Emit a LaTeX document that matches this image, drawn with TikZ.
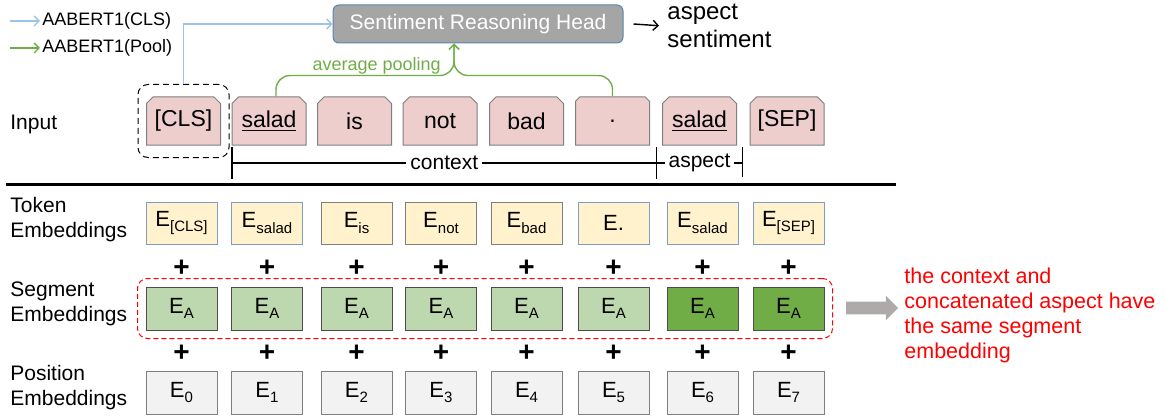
\documentclass[tikz,border=0pt]{standalone}
\usepackage{fontspec}
\setmainfont{Liberation Sans}
\usepackage{tikz}
\usetikzlibrary{shapes.misc, shapes.arrows, fit, positioning, arrows.meta}

\definecolor{token_fill}{HTML}{EECDCD}
\definecolor{cream_fill}{HTML}{FFF2CC}
\definecolor{seg_light}{HTML}{BDD7AE}
\definecolor{seg_dark}{HTML}{70AD47}
\definecolor{pos_fill}{HTML}{F2F2F2}
\definecolor{edge_gray}{HTML}{7F7F7F}
\definecolor{edge_blue}{HTML}{7E9CC4}
\definecolor{cls_blue}{HTML}{9DC3E6}
\definecolor{pool_green}{HTML}{70AD47}
\definecolor{head_fill}{HTML}{A5A5A5}
\definecolor{head_edge}{HTML}{5B84B1}
\definecolor{hint_gray}{HTML}{AEAAAA}

\newcommand{\emb}[1]{E\raisebox{-0.45ex}{\fontsize{7.5}{8}\selectfont #1}}

\tikzset{
  base_font/.style = {font=\fontsize{10.5}{12.5}\selectfont},
  small_font/.style = {font=\fontsize{9}{11}\selectfont},
  big_font/.style = {font=\fontsize{12}{14}\selectfont},
  emb_font/.style = {font=\fontsize{11}{13}\selectfont}
}
\tikzset{
  >={Straight Barb[length=2.5pt, width=5pt]},
  label_text/.style = {base_font, align=left, anchor=west, inner sep=0},
  legend_text/.style = {small_font, anchor=west, inner sep=1pt},
  out_text/.style = {big_font, align=left, anchor=west, inner sep=2pt},
  head/.style = {base_font, text=white, fill=head_fill, draw=head_edge, line width=0.5pt,
    rounded corners=3pt, minimum width=145pt, minimum height=19pt},
  token/.style = {chamfered rectangle, chamfered rectangle corners={north west, north east},
    chamfered rectangle xsep=1.75pt, chamfered rectangle ysep=1.5pt,
    font=\fontsize{11.5}{13}\selectfont, fill=token_fill, draw=edge_gray, line width=0.5pt,
    minimum width=37pt, minimum height=24pt, inner sep=0},
  cls_box/.style = {draw, dashed, dash pattern=on 3pt off 2pt, line width=0.5pt,
    rounded corners=5pt, inner xsep=4pt, inner ysep=6pt},
  emb/.style = {emb_font, draw=edge_gray, line width=0.5pt, minimum width=35.5pt, inner sep=0},
  tok_emb/.style = {emb, fill=cream_fill, minimum height=21pt},
  blue_edge/.style = {draw=edge_blue},
  seg_emb/.style = {emb, fill=seg_light, draw=black!70, minimum height=21.5pt},
  dark_seg/.style = {fill=seg_dark},
  pos_emb/.style = {emb, fill=pos_fill, minimum height=21.5pt},
  plus/.style = {font=\bfseries\fontsize{14}{14}\selectfont, inner sep=0}
}
\tikzset{
  cls_line/.style = {->, draw=cls_blue, line width=0.7pt},
  pool_line/.style = {->, draw=pool_green, line width=0.7pt},
  pool_text/.style = {small_font, text=pool_green, inner sep=0},
  bracket/.style = {line width=0.8pt},
  bracket_text/.style = {base_font, fill=white, inner sep=2pt},
  sep_line/.style = {line width=1.5pt},
  seg_box/.style = {draw=red, dashed, dash pattern=on 2.5pt off 1.5pt, line width=0.5pt,
    rounded corners=5pt, inner sep=4pt},
  hint/.style = {single arrow, fill=hint_gray, inner sep=3pt, minimum width=12pt,
    minimum height=26pt, single arrow head extend=3pt},
  note/.style = {font=\fontsize{10.75}{12.5}\selectfont, text=red, align=left, anchor=west, inner sep=0}
}

\begin{document}
\begin{tikzpicture}[x=0.5pt, y=-0.5pt]
        \useasboundingbox (0,0) rectangle (1165,417);

        % Legend
        \node[legend_text] (leg_cls) at (40,21) {AABERT1(CLS)};
        \node[legend_text] (leg_pool) at (40,48) {AABERT1(Pool)};
        \draw[cls_line] ([xshift=-15pt]leg_cls.west) -- (leg_cls.west);
        \draw[pool_line] ([xshift=-15pt]leg_pool.west) -- (leg_pool.west);

        % Head and output
        \node[head] (head) at (478,24) {Sentiment Reasoning Head};
        \node[out_text] (out) at (663,26) {aspect\\sentiment};
        \draw[->, line width=0.7pt, shorten >=2pt] ([xshift=5pt]head.east) -- (out.west);

        % Input tokens
        \node[label_text] (l_input) at (10,124) {Input};
        \node[token] (t_0) at (183.5,121) {[CLS]};
        \node[token] (t_1) at (269,121) {\underline{salad}};
        \node[token] (t_2) at (354.5,121) {is};
        \node[token] (t_3) at (440,121) {not};
        \node[token] (t_4) at (526.5,121) {bad};
        \node[token] (t_5) at (612.5,121) {.};
        \node[token] (t_6) at (699.5,121) {\underline{salad}};
        \node[token] (t_7) at (787,121) {[SEP]};
        \node[cls_box, fit=(t_0)] (cls_box) {};

        % Pooling and CLS paths
        \coordinate (pool_in) at ([xshift=-12pt]head.south);
        \coordinate (pool_bar) at ([yshift=-16pt]pool_in);
        \draw[pool_line, rounded corners=7pt] ([xshift=3.5pt]t_1.north) |- (pool_bar) -- (pool_in);
        \draw[pool_line, rounded corners=7pt] (t_5.north) |- (pool_bar) -- (pool_in);
        \node[pool_text, anchor=base east] (pool_lbl) at ([xshift=-6.5pt, yshift=2.5pt]pool_bar) {average pooling};
        \draw[cls_line] (cls_box.north) |- (head.west);

        % Context / aspect bracket
        \coordinate (ctx_l) at (232,163);
        \coordinate (ctx_m) at (656.5,163);
        \coordinate (ctx_r) at (742.5,163);
        \draw[bracket] (ctx_l) -- node[bracket_text] (ctx_lbl) {context} (ctx_m)
            -- node[bracket_text] (asp_lbl) {aspect} (ctx_r);
        \draw[bracket] ([yshift=8pt]ctx_l) -- ([yshift=-8pt]ctx_l);
        \draw[bracket] ([yshift=8pt]ctx_m) -- ([yshift=-8pt]ctx_m);
        \draw[bracket] ([yshift=8pt]ctx_r) -- ([yshift=-7pt]ctx_r);

        \draw[sep_line] (6,184) -- (896,184);

        % Row labels
        \node[label_text] (l_tok) at (10,220) {Token\\Embeddings};
        \node[label_text] (l_seg) at (10,304) {Segment\\Embeddings};
        \node[label_text] (l_pos) at (10,388) {Position\\Embeddings};

        % Token embeddings
        \node[tok_emb, blue_edge] (te_0) at (181.5,223) {\emb{[CLS]}};
        \node[tok_emb, blue_edge] (te_1) at (267,223) {\emb{salad}};
        \node[tok_emb] (te_2) at (356.5,223) {\emb{is}};
        \node[tok_emb] (te_3) at (441,223) {\emb{not}};
        \node[tok_emb] (te_4) at (526.5,223) {\emb{bad}};
        \node[tok_emb, blue_edge] (te_5) at (613.5,223) {E.};
        \node[tok_emb, blue_edge] (te_6) at (702.5,223) {\emb{salad}};
        \node[tok_emb, blue_edge] (te_7) at (788.5,223) {\emb{[SEP]}};

        \coordinate (plus_1) at (0,268);
        \coordinate (seg_row) at (0,308.5);
        \coordinate (plus_2) at (0,353);
        \coordinate (pos_row) at (0,392.5);

        \node[plus] (p1_0) at (te_0 |- plus_1) {+};
        \node[plus] (p1_1) at (te_1 |- plus_1) {+};
        \node[plus] (p1_2) at (te_2 |- plus_1) {+};
        \node[plus] (p1_3) at (te_3 |- plus_1) {+};
        \node[plus] (p1_4) at (te_4 |- plus_1) {+};
        \node[plus] (p1_5) at (te_5 |- plus_1) {+};
        \node[plus] (p1_6) at (te_6 |- plus_1) {+};
        \node[plus] (p1_7) at (te_7 |- plus_1) {+};

        % Segment embeddings
        \node[seg_emb] (se_0) at (te_0 |- seg_row) {\emb{A}};
        \node[seg_emb] (se_1) at (te_1 |- seg_row) {\emb{A}};
        \node[seg_emb] (se_2) at (te_2 |- seg_row) {\emb{A}};
        \node[seg_emb] (se_3) at (te_3 |- seg_row) {\emb{A}};
        \node[seg_emb] (se_4) at (te_4 |- seg_row) {\emb{A}};
        \node[seg_emb] (se_5) at (te_5 |- seg_row) {\emb{A}};
        \node[seg_emb, dark_seg] (se_6) at (te_6 |- seg_row) {\emb{A}};
        \node[seg_emb, dark_seg] (se_7) at (te_7 |- seg_row) {\emb{A}};
        \node[seg_box, fit=(se_0)(se_7)] (seg_box) {};

        \node[plus] (p2_0) at (te_0 |- plus_2) {+};
        \node[plus] (p2_1) at (te_1 |- plus_2) {+};
        \node[plus] (p2_2) at (te_2 |- plus_2) {+};
        \node[plus] (p2_3) at (te_3 |- plus_2) {+};
        \node[plus] (p2_4) at (te_4 |- plus_2) {+};
        \node[plus] (p2_5) at (te_5 |- plus_2) {+};
        \node[plus] (p2_6) at (te_6 |- plus_2) {+};
        \node[plus] (p2_7) at (te_7 |- plus_2) {+};

        % Position embeddings
        \node[pos_emb] (pe_0) at (te_0 |- pos_row) {\emb{0}};
        \node[pos_emb] (pe_1) at (te_1 |- pos_row) {\emb{1}};
        \node[pos_emb] (pe_2) at (te_2 |- pos_row) {\emb{2}};
        \node[pos_emb] (pe_3) at (te_3 |- pos_row) {\emb{3}};
        \node[pos_emb] (pe_4) at (te_4 |- pos_row) {\emb{4}};
        \node[pos_emb] (pe_5) at (te_5 |- pos_row) {\emb{5}};
        \node[pos_emb] (pe_6) at (te_6 |- pos_row) {\emb{6}};
        \node[pos_emb] (pe_7) at (te_7 |- pos_row) {\emb{7}};

        % Note
        \node[hint] (hint_arrow) at (869,308) {};
        \node[note] (note) at (904,315) {the context and\\concatenated aspect have\\the same segment\\embedding};
\end{tikzpicture}
\end{document}
